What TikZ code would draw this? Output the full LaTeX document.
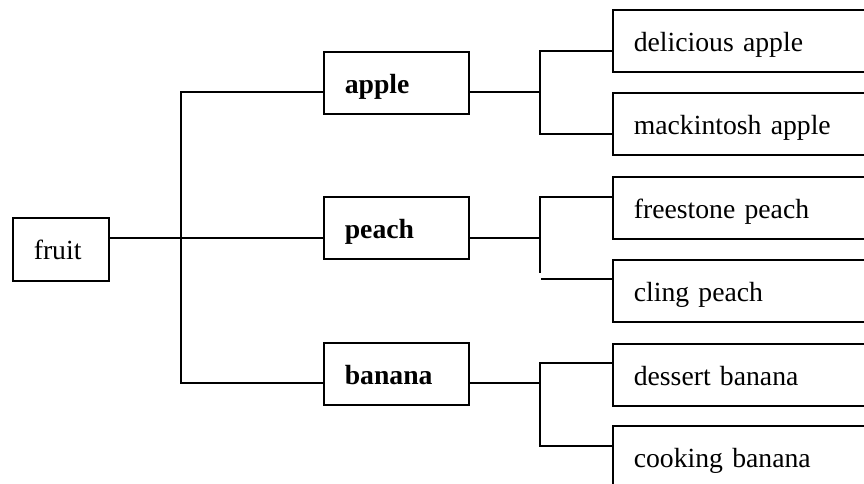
\documentclass[tikz,border=0pt]{standalone}
\usepackage{fontspec}
\setmainfont{Liberation Serif}
\begin{document}
\begin{tikzpicture}[x=1pt,y=-1pt,
  box/.style={draw, line width=1.6pt, rectangle, anchor=north west,
    inner xsep=21pt, inner ysep=0pt, text height=27pt, text depth=6pt,
    align=left, font=\fontsize{27.7}{30}\selectfont},
  leaf/.style={box, text width=258pt, minimum height=62pt},
  mid/.style={box, text width=103pt, minimum height=62pt, font=\fontsize{27.7}{30}\selectfont\bfseries},
  conn/.style={line width=1.6pt}]
\clip (0,0) rectangle (864,483);
% nodes
\node[box, text width=54pt, minimum height=63pt] (fruit) at (12,217) {fruit};
\node[mid] (apple) at (323,51) {apple};
\node[mid] (peach) at (323,196) {peach};
\node[mid] (banana) at (323,342) {banana};
\node[leaf] (delicious) at (612,9) {delicious apple};
\node[leaf] (mackintosh) at (612,92) {mackintosh apple};
\node[leaf] (freestone) at (612,176) {freestone peach};
\node[leaf] (cling) at (612,259) {cling peach};
\node[leaf] (dessert) at (612,343) {dessert banana};
\node[leaf] (cooking) at (612,425) {cooking banana};
% junction coordinates
\coordinate (t1) at (181,92);
\coordinate (t2) at (181,238);
\coordinate (t3) at (181,383);
\coordinate (ja) at (540,92);
\coordinate (ja1) at (540,51);
\coordinate (ja2) at (540,134);
\coordinate (jp) at (540,238);
\coordinate (jp1) at (540,197);
\coordinate (jp2) at (540,273);
\coordinate (jp3) at (541,279);
\coordinate (jb) at (540,383);
\coordinate (jb1) at (540,363);
\coordinate (jb2) at (540,446);
% connectors from fruit
\draw[conn] (fruit.east |- t2) -- (peach.west |- t2);
\draw[conn] (apple.west |- t1) -- (t1) -- (t3) -- (banana.west |- t3);
% apple branch
\draw[conn] (apple.east |- ja) -- (ja);
\draw[conn] (delicious.west |- ja1) -- (ja1) -- (ja2) -- (mackintosh.west |- ja2);
% peach branch
\draw[conn] (peach.east |- jp) -- (jp);
\draw[conn] (freestone.west |- jp1) -- (jp1) -- (jp2);
\draw[conn] (jp3) -- (cling.west |- jp3);
% banana branch
\draw[conn] (banana.east |- jb) -- (jb);
\draw[conn] (dessert.west |- jb1) -- (jb1) -- (jb2) -- (cooking.west |- jb2);
\end{tikzpicture}
\end{document}
